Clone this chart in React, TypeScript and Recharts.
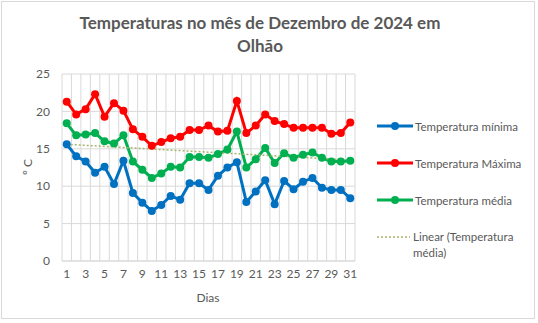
import { LineChart, Line, XAxis, YAxis, CartesianGrid } from "recharts";

// Dias de dezembro
const days = [
  1, 2, 3, 4, 5, 6, 7, 8, 9, 10, 11, 12, 13, 14, 15, 16, 17, 18, 19, 20, 21,
  22, 23, 24, 25, 26, 27, 28, 29, 30, 31,
];

const tempMin = [
  15.6, 14.0, 13.3, 11.8, 12.6, 10.3, 13.4, 9.1, 7.8, 6.7, 7.5, 8.7, 8.2, 10.4,
  10.4, 9.5, 11.4, 12.5, 13.2, 7.9, 9.3, 10.8, 7.6, 10.7, 9.6, 10.6, 11.1, 9.8,
  9.5, 9.5, 8.4,
];

const tempMax = [
  21.3, 19.6, 20.3, 22.3, 19.3, 21.1, 20.1, 17.6, 16.6, 15.4, 15.9, 16.4, 16.6,
  17.5, 17.5, 18.1, 17.3, 17.4, 21.4, 17.1, 18.1, 19.6, 18.7, 18.3, 17.8, 17.8,
  17.8, 17.8, 17.0, 17.1, 18.5,
];

const tempMed = [
  18.4, 16.8, 16.9, 17.1, 16.0, 15.7, 16.8, 13.3, 12.2, 11.1, 11.7, 12.6, 12.5,
  13.9, 13.9, 13.8, 14.3, 14.9, 17.3, 12.5, 13.6, 15.1, 13.1, 14.4, 13.8, 14.2,
  14.5, 13.8, 13.3, 13.3, 13.4,
];

// Linha de tendência (extremos)
const trendDays = [1, 31];
const trendValues = [15.6, 13.5];

const yTicks = [0, 5, 10, 15, 20, 25];

const data = days.map((d, i) => {
  const t = trendDays.indexOf(d);
  return {
    day: d,
    min: tempMin[i],
    max: tempMax[i],
    med: tempMed[i],
    trend: t >= 0 ? trendValues[t] : null,
  };
});

const FONT = "Lato, 'Open Sans', sans-serif";
const TEXT = "#595959";
const GRID = "#d9d9d9";
const BLUE = "#0070c0";
const RED = "#ff0000";
const GREEN = "#00b050";
const TREND = "#a5b36b";

const legendItems = [
  { label: "Temperatura mínima", color: BLUE, top: 118 },
  { label: "Temperatura Máxima", color: RED, top: 155 },
  { label: "Temperatura média", color: GREEN, top: 192 },
];

export default function App() {
  return (
    <div
      style={{
        position: "absolute",
        left: 0,
        top: 0,
        width: 538,
        height: 323,
        background: "#fff",
        fontFamily: FONT,
        color: TEXT,
      }}
    >
      <div
        style={{
          position: "absolute",
          left: 1,
          top: 1,
          width: 534,
          height: 318,
          border: `1px solid ${GRID}`,
          boxSizing: "border-box",
        }}
      />
      <div
        style={{
          position: "absolute",
          left: 0,
          top: 11,
          width: 520,
          textAlign: "center",
          fontSize: 17,
          fontWeight: 700,
          lineHeight: "23px",
        }}
      >
        Temperaturas no mês de Dezembro de 2024 em
        <br />
        Olhão
      </div>

      <LineChart
        width={538}
        height={323}
        data={data}
        margin={{ top: 74, right: 183, bottom: 32, left: 0 }}
        style={{ position: "absolute", left: 0, top: 0 }}
      >
        <CartesianGrid
          stroke={GRID}
          verticalCoordinatesGenerator={({ offset }: any) =>
            days.concat([0]).map((_, i) => offset.left + (i * offset.width) / days.length)
          }
        />
        <XAxis
          dataKey="day"
          scale="band"
          interval={1}
          tickLine={false}
          tickSize={0}
          tickMargin={8}
          axisLine={{ stroke: GRID }}
          tick={{ fill: TEXT, fontSize: 12, fontFamily: FONT }}
        />
        <YAxis
          width={62}
          domain={[0, 25]}
          ticks={yTicks}
          axisLine={false}
          tickLine={false}
          tickSize={0}
          tickMargin={12}
          tick={{ fill: TEXT, fontSize: 12, fontFamily: FONT }}
        />
        <Line
          dataKey="min"
          stroke={BLUE}
          strokeWidth={3}
          dot={{ r: 4, fill: BLUE, stroke: BLUE, strokeWidth: 0 }}
          isAnimationActive={false}
        />
        <Line
          dataKey="max"
          stroke={RED}
          strokeWidth={3}
          dot={{ r: 4, fill: RED, stroke: RED, strokeWidth: 0 }}
          isAnimationActive={false}
        />
        <Line
          dataKey="med"
          stroke={GREEN}
          strokeWidth={3}
          dot={{ r: 4, fill: GREEN, stroke: GREEN, strokeWidth: 0 }}
          isAnimationActive={false}
        />
        <Line
          dataKey="trend"
          stroke={TREND}
          strokeWidth={1.5}
          strokeDasharray="2 2"
          dot={false}
          connectNulls
          isAnimationActive={false}
        />
      </LineChart>

      <div
        style={{
          position: "absolute",
          left: 27,
          top: 167,
          transform: "translate(-50%, -50%) rotate(-90deg)",
          fontSize: 12,
          whiteSpace: "nowrap",
        }}
      >
        º C
      </div>
      <div
        style={{
          position: "absolute",
          left: 208,
          top: 297,
          transform: "translate(-50%, -50%)",
          fontSize: 12,
        }}
      >
        Dias
      </div>

      {legendItems.map((it) => (
        <div
          key={it.label}
          style={{
            position: "absolute",
            left: 377,
            top: it.top,
            height: 16,
            display: "flex",
            alignItems: "center",
            fontSize: 11.5,
            whiteSpace: "nowrap",
          }}
        >
          <svg width={36} height={16} style={{ marginRight: 2 }}>
            <line x1={0} y1={8} x2={36} y2={8} stroke={it.color} strokeWidth={3} />
            <circle cx={18} cy={8} r={4} fill={it.color} />
          </svg>
          {it.label}
        </div>
      ))}
      <div
        style={{
          position: "absolute",
          left: 377,
          top: 229,
          display: "flex",
          alignItems: "flex-start",
          fontSize: 11.5,
          lineHeight: "16px",
        }}
      >
        <svg width={36} height={16} style={{ marginRight: 0, flexShrink: 0 }}>
          <line
            x1={0}
            y1={8}
            x2={33}
            y2={8}
            stroke={TREND}
            strokeWidth={1.5}
            strokeDasharray="2 2"
          />
        </svg>
        <div>
          Linear (Temperatura
          <br />
          média)
        </div>
      </div>
    </div>
  );
}
